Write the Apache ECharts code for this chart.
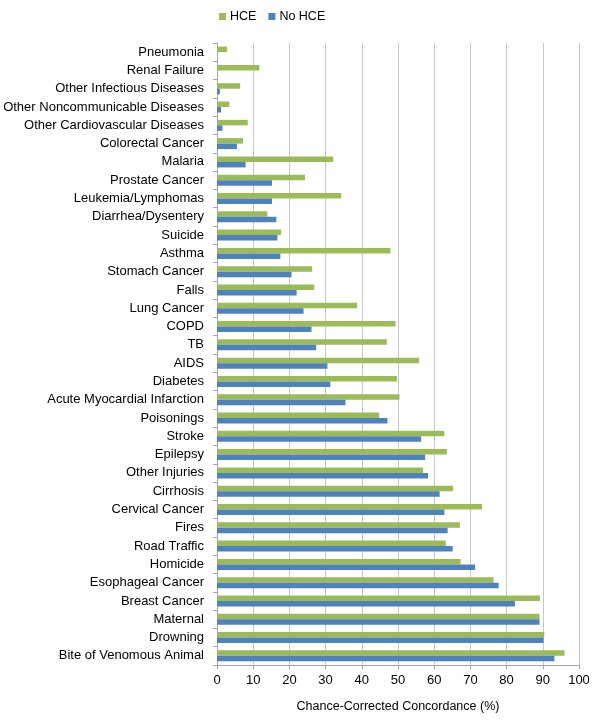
<!DOCTYPE html>
<html><head><meta charset="utf-8">
<script src="https://cdn.jsdelivr.net/npm/echarts@6/dist/echarts.min.js"></script>
<style>html,body{margin:0;padding:0;background:#fff}#c{width:600px;height:724px}</style>
</head><body><div id="c"></div>
<script>
var categories = ["Pneumonia","Renal Failure","Other Infectious Diseases","Other Noncommunicable Diseases","Other Cardiovascular Diseases","Colorectal Cancer","Malaria","Prostate Cancer","Leukemia/Lymphomas","Diarrhea/Dysentery","Suicide","Asthma","Stomach Cancer","Falls","Lung Cancer","COPD","TB","AIDS","Diabetes","Acute Myocardial Infarction","Poisonings","Stroke","Epilepsy","Other Injuries","Cirrhosis","Cervical Cancer","Fires","Road Traffic","Homicide","Esophageal Cancer","Breast Cancer","Maternal","Drowning","Bite of Venomous Animal"];
var hce = [2.8,11.7,6.4,3.4,8.5,7.2,32.1,24.3,34.3,13.9,17.7,47.9,26.3,26.9,38.7,49.3,46.9,55.8,49.7,50.4,44.8,62.8,63.5,56.9,65.2,73.2,67.1,63.2,67.3,76.4,89.2,89.1,90.4,96.0];
var noHce = [0,0,0.8,1.1,1.5,5.5,7.9,15.2,15.2,16.4,16.7,17.5,20.6,22.0,23.9,26.1,27.4,30.5,31.3,35.5,47.1,56.4,57.5,58.3,61.5,62.8,63.7,65.1,71.3,77.8,82.3,89.1,90.2,93.2];
var xTicks = [0,10,20,30,40,50,60,70,80,90,100];

var font = "Liberation Sans";
var chart = echarts.init(document.getElementById('c'), null, {renderer:'canvas'});
chart.setOption({
  animation:false,
  textStyle:{fontFamily:font},
  legend:{
    top:10, left:219, padding:0, itemWidth:7, itemHeight:7, itemGap:12, icon:'rect',
    textStyle:{fontFamily:font, fontSize:12.5, color:'#000', padding:[0,0,0,-1]},
    data:['HCE','No HCE']
  },
  grid:{left:217, right:21, top:43, bottom:59},
  xAxis:{
    type:'value', min:0, max:100, interval:10,
    name:'Chance-Corrected Concordance (%)', nameLocation:'middle', nameGap:35,
    nameTextStyle:{fontFamily:font, fontSize:12.5, color:'#000'},
    axisLine:{show:true, lineStyle:{color:'#a6a6a6'}},
    axisTick:{show:true, length:4, lineStyle:{color:'#a6a6a6'}},
    axisLabel:{fontFamily:font, fontSize:13, color:'#000', margin:9,
      formatter:function(v){return xTicks.indexOf(v)>=0?String(v):'';}},
    splitLine:{show:true, lineStyle:{color:'#c8c8c8'}}
  },
  yAxis:{
    type:'category', inverse:true, data:categories,
    axisLine:{show:true, lineStyle:{color:'#a6a6a6'}},
    axisTick:{show:true, length:4, lineStyle:{color:'#a6a6a6'}},
    axisLabel:{fontFamily:font, fontSize:13, color:'#000', margin:13, interval:0},
    splitLine:{show:false}
  },
  series:[
    {name:'HCE', type:'bar', data:hce, barWidth:5.5, barGap:'0%', itemStyle:{color:'#9bbb59'}},
    {name:'No HCE', type:'bar', data:noHce, barWidth:5.5, barGap:'0%', itemStyle:{color:'#4f81bd'}}
  ]
});
</script></body></html>
